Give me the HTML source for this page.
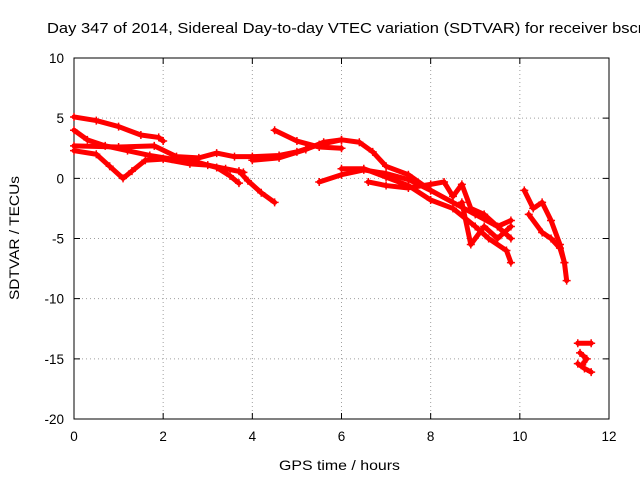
<!DOCTYPE html>
<html><head><meta charset="utf-8"><style>
body{margin:0;background:#fff;}
svg{display:block;font-family:"Liberation Sans",sans-serif;}
</style></head><body>
<svg id="chart" width="640" height="480" viewBox="0 0 640 480" xmlns="http://www.w3.org/2000/svg">
<rect width="640" height="480" fill="#fff"/>
<text x="47" y="33" font-size="14.5" textLength="600" lengthAdjust="spacingAndGlyphs" fill="#000">Day 347 of 2014, Sidereal Day-to-day VTEC variation (SDTVAR) for receiver bscn</text>
<g id="grid"></g>
<g id="axes"></g>
<g id="series"></g>
<text x="279" y="470" font-size="14" textLength="121" lengthAdjust="spacingAndGlyphs">GPS time / hours</text>
<text transform="translate(19,300) rotate(-90)" font-size="14" textLength="124" lengthAdjust="spacingAndGlyphs">SDTVAR / TECUs</text>
</svg>
<script>
const xTicks=[0,2,4,6,8,10,12];
const yTicks=[10,5,0,-5,-10,-15,-20];
const track1=[[0,5.1],[0.5,4.8],[1,4.3],[1.5,3.6],[1.9,3.4],[2,3.1]];
const track2=[[0,4],[0.3,3.2],[0.7,2.7],[1.2,2.3],[1.7,1.9],[2.2,1.6],[2.8,1.3],[3.2,0.9],[3.5,0.2],[3.7,-0.4]];
const track3=[[3.7,0.6],[3.9,-0.2],[4.2,-1.2],[4.5,-2]];
const track4=[[0,2.7],[1,2.6],[1.8,2.7],[2.3,1.8],[2.8,1.7],[3.2,2.1],[3.6,1.8],[4,1.8],[4.6,1.9],[5,2.2],[5.5,2.8],[6,3.2],[6.4,3],[6.7,2.2],[7,1],[7.5,0.3],[8,-1]];
const track5=[[0,2.3],[0.5,2],[0.8,1],[1.1,0],[1.3,0.6],[1.6,1.5],[2,1.6],[2.6,1.2],[3,1.1],[3.4,0.8],[3.8,0.5]];
const track6=[[4.5,4],[5,3.1],[5.5,2.6],[6,2.5]];
const track7=[[4,1.5],[4.6,1.7],[5.2,2.4],[5.6,3],[6,3.2]];
const track8=[[5.5,-0.3],[6,0.3],[6.5,0.7],[7,0.4],[7.5,-0.1],[8,-1],[8.5,-2],[9,-3],[9.5,-4],[9.8,-5]];
const track9=[[6,0.8],[6.5,0.8],[7,0.1],[7.5,-0.6],[8,-1.8],[8.5,-2.5],[9,-4],[9.3,-5],[9.7,-6],[9.8,-7]];
const track10=[[6.6,-0.3],[7,-0.6],[7.5,-0.8],[8,-0.5],[8.3,-0.3],[8.5,-1.5],[8.7,-0.5],[8.9,-2.5],[9.2,-3],[9.5,-4],[9.8,-3.5]];
const track11=[[8.7,-2],[8.9,-5.5],[9.2,-4],[9.5,-5],[9.8,-4]];
const track12=[[10.1,-1],[10.3,-2.5],[10.5,-2],[10.7,-3.5],[10.9,-5.5],[11,-7],[11.05,-8.5]];
const track13=[[10.2,-3],[10.5,-4.5],[10.7,-5],[10.9,-5.8],[11,-7]];
const track14=[[11.3,-13.7],[11.6,-13.7]];
const track15=[[11.3,-15.4],[11.45,-15.8],[11.6,-16.1]];
const track16=[[11.35,-14.5],[11.5,-15],[11.4,-15.5]];
const tracks=[track1,track2,track3,track4,track5,track6,track7,track8,track9,track10,track11,track12,track13,track14,track15,track16];
const X0=74,X1=609,Y0=58,Y1=419;
const xs=v=>X0+(v-0)/12*(X1-X0);
const ys=v=>Y0+(10-v)/30*(Y1-Y0);
const NS="http://www.w3.org/2000/svg";
const grid=document.getElementById('grid'),axes=document.getElementById('axes'),series=document.getElementById('series');
function mk(t,a){const e=document.createElementNS(NS,t);for(const k in a)e.setAttribute(k,a[k]);return e;}
xTicks.forEach(t=>{const x=xs(t);
 if(t>0&&t<12){const g=mk('line',{x1:x,y1:Y0,x2:x,y2:Y1,stroke:'#a0a0a0','stroke-dasharray':'1,3'});
 
 grid.appendChild(g);}
 const tk=mk('path',{d:`M${x},${Y1}v-6M${x},${Y0}v6`,stroke:'#000'});
 
 axes.appendChild(tk);
 const l=mk('text',{x:x,y:Y1+22,'font-size':13.5,'text-anchor':'middle'});l.textContent=t;
 
 axes.appendChild(l);});
yTicks.forEach(t=>{const y=ys(t);
 if(t<10&&t>-20){const g=mk('line',{x1:X0,y1:y,x2:X1,y2:y,stroke:'#a0a0a0','stroke-dasharray':'1,3'});
 
 grid.appendChild(g);}
 const tk=mk('path',{d:`M${X0},${y}h6M${X1},${y}h-6`,stroke:'#000'});
 
 axes.appendChild(tk);
 const l=mk('text',{x:X0-10,y:y+5,'font-size':13.5,'text-anchor':'end'});l.textContent=t;
 
 axes.appendChild(l);});
const fr=mk('rect',{x:X0,y:Y0,width:X1-X0,height:Y1-Y0,fill:'none',stroke:'#000'});

axes.appendChild(fr);
tracks.forEach(tr=>{
 const pl=mk('polyline',{points:tr.map(p=>xs(p[0])+','+ys(p[1])).join(' '),fill:'none',stroke:'#f00','stroke-width':5,'stroke-linejoin':'round','stroke-linecap':'round'});
 
 series.appendChild(pl);
 tr.forEach(p=>{const x=xs(p[0]),y=ys(p[1]);
  const m=mk('path',{d:`M${x-4},${y}h8M${x},${y-4}v8`,stroke:'#f00','stroke-width':1.5});
  
  series.appendChild(m);});
});
</script>
</body></html>
